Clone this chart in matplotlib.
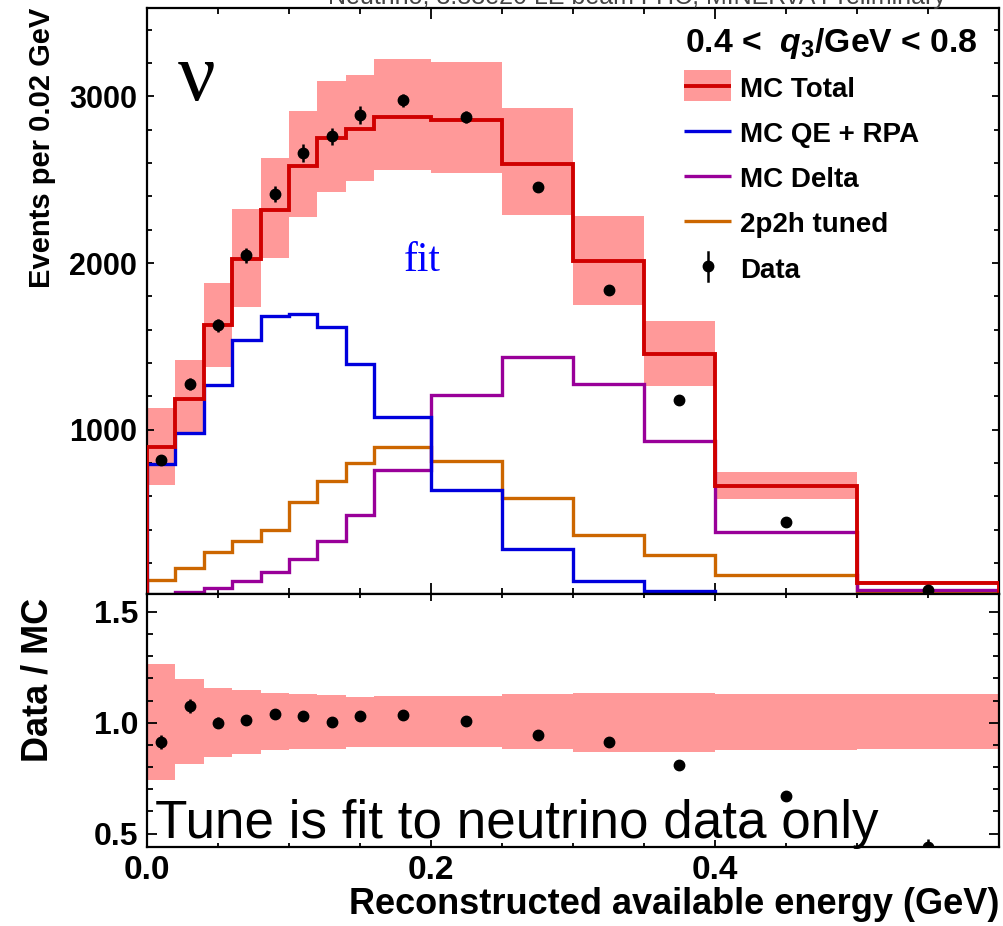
import numpy as np
import matplotlib
matplotlib.use("Agg")
import matplotlib.pyplot as plt
from matplotlib.lines import Line2D
from matplotlib.patches import Rectangle
from matplotlib.ticker import MultipleLocator, FixedLocator, FormatStrFormatter

# ---------------------------------------------------------------- data
bin_edges = [0.0, 0.02, 0.04, 0.06, 0.08, 0.10, 0.12, 0.14, 0.16,
             0.20, 0.25, 0.30, 0.35, 0.40, 0.50, 0.60]
bin_centers = [0.01, 0.03, 0.05, 0.07, 0.09, 0.11, 0.13, 0.15,
               0.18, 0.225, 0.275, 0.325, 0.375, 0.45, 0.55]

mc_total = [895, 1186, 1626, 2024, 2320, 2584, 2750, 2806,
            2876, 2858, 2596, 2012, 1456, 664, 82]
mc_qe_rpa = [794, 980, 1270, 1540, 1684, 1694, 1616, 1396,
             1076, 640, 286, 90, 34, 8, 1]
mc_delta = [8, 26, 50, 90, 146, 224, 334, 486,
            760, 1206, 1438, 1276, 930, 384, 40]
mc_2p2h = [96, 168, 266, 334, 398, 564, 694, 798,
           894, 810, 592, 368, 250, 130, 30]
data = [816, 1276, 1626, 2046, 2414, 2660, 2760, 2888,
        2976, 2876, 2458, 1840, 1180, 446, 36]
data_err = [29, 36, 40, 45, 49, 52, 53, 54,
            39, 34, 31, 27, 22, 10, 3]

# fractional systematic uncertainty on the MC total (lower / upper)
band_lo = [0.744, 0.816, 0.846, 0.858, 0.875, 0.881, 0.882, 0.889,
           0.889, 0.889, 0.881, 0.869, 0.869, 0.878, 0.881]
band_hi = [1.266, 1.195, 1.158, 1.148, 1.133, 1.128, 1.124, 1.115,
           1.121, 1.121, 1.128, 1.133, 1.133, 1.128, 1.128]

legend_labels = ["MC Total", "MC QE + RPA", "MC Delta", "2p2h tuned", "Data"]

# ---------------------------------------------------------------- style
C_BAND = "#ff9999"
C_TOTAL = "#d00000"
C_QE = "#0000dd"
C_DELTA = "#990099"
C_2P2H = "#cc6600"

plt.rcParams["font.family"] = ["Liberation Sans", "DejaVu Sans"]
plt.rcParams["font.weight"] = "bold"
plt.rcParams["axes.labelweight"] = "bold"
plt.rcParams["mathtext.fontset"] = "custom"
plt.rcParams["mathtext.rm"] = "Liberation Sans:bold"
plt.rcParams["mathtext.bf"] = "Liberation Sans:bold"
plt.rcParams["mathtext.it"] = "Liberation Sans:bold:italic"

W, H = 1004, 926
fig = plt.figure(figsize=(W / 100, H / 100), dpi=100)


def fpos(x, y):
    """pixel position (from top-left) -> figure fraction"""
    return x / W, 1 - y / H


L, R, T, MID, B = 147, 999, 8, 594, 847
ax1 = fig.add_axes([L / W, 1 - MID / H, (R - L) / W, (MID - T) / H])
ax2 = fig.add_axes([L / W, 1 - B / H, (R - L) / W, (B - MID) / H])

edges = np.array(bin_edges)
tot = np.array(mc_total, dtype=float)
lo = np.array(band_lo)
hi = np.array(band_hi)
d = np.array(data, dtype=float)
derr = np.array(data_err, dtype=float)

# ---------------------------------------------------------------- top panel
ax1.stairs(tot * hi, edges, baseline=tot * lo, fill=True, color=C_BAND,
           lw=0, zorder=1)
ax1.stairs(mc_2p2h, edges, color=C_2P2H, lw=2.4, zorder=2)
ax1.stairs(mc_delta, edges, color=C_DELTA, lw=2.4, zorder=2)
ax1.stairs(mc_qe_rpa, edges, color=C_QE, lw=2.4, zorder=2)
ax1.stairs(tot, edges, color=C_TOTAL, lw=2.8, zorder=3)
ax1.errorbar(bin_centers, d, yerr=derr, fmt="o", color="black", ms=7.5,
             elinewidth=1.8, capsize=0, zorder=4)

ax1.set_xlim(0.0, 0.6)
ax1.set_ylim(15, 3530)
ax1.xaxis.set_major_locator(FixedLocator([0.0, 0.2, 0.4]))
ax1.xaxis.set_minor_locator(MultipleLocator(0.05))
ax1.yaxis.set_major_locator(MultipleLocator(1000))
ax1.yaxis.set_minor_locator(MultipleLocator(200))
ax1.tick_params(axis="both", which="both", direction="in", top=True,
                right=True, width=1.3)
ax1.tick_params(axis="x", which="major", length=8, labelbottom=False)
ax1.tick_params(axis="x", which="minor", length=4.5)
ax1.tick_params(axis="y", which="major", length=5, labelsize=22, pad=7)
ax1.tick_params(axis="y", which="minor", length=3.6)
ax1.set_ylabel("Events per 0.02 GeV", fontsize=21, fontweight="bold",
               loc="top")
ax1.yaxis.set_label_coords(-0.107, 1.0)

# ---------------------------------------------------------------- ratio panel
ax2.stairs(hi, edges, baseline=lo, fill=True, color=C_BAND, lw=0, zorder=1)
ax2.errorbar(bin_centers, d / tot, yerr=derr / tot, fmt="o", color="black",
             ms=7.5, elinewidth=1.8, capsize=0, zorder=4)
ax2.set_xlim(0.0, 0.6)
ax2.set_ylim(0.44, 1.58)
ax2.xaxis.set_major_locator(FixedLocator([0.0, 0.2, 0.4]))
ax2.xaxis.set_major_formatter(FormatStrFormatter("%.1f"))
ax2.xaxis.set_minor_locator(MultipleLocator(0.05))
ax2.yaxis.set_major_locator(MultipleLocator(0.5))
ax2.yaxis.set_major_formatter(FormatStrFormatter("%.1f"))
ax2.yaxis.set_minor_locator(MultipleLocator(0.1))
ax2.tick_params(axis="both", which="both", direction="in", top=True,
                right=True, width=1.3)
ax2.tick_params(axis="x", which="major", length=5, labelsize=24, pad=6)
ax2.tick_params(axis="x", which="minor", length=3)
ax2.tick_params(axis="y", which="major", length=7, labelsize=23, pad=6)
ax2.tick_params(axis="y", which="minor", length=4)
ax2.set_ylabel("Data / MC", fontsize=26, fontweight="bold", loc="top")
ax2.yaxis.set_label_coords(-0.107, 0.985)
ax2.set_xlabel("Reconstructed available energy (GeV)", fontsize=26,
               fontweight="bold", loc="right")
ax2.xaxis.set_label_coords(1.0, -0.16)

for ax in (ax1, ax2):
    for s in ax.spines.values():
        s.set_linewidth(1.6)

# ---------------------------------------------------------------- annotations
fig.text(*fpos(178, 100), "\u03bd", family="Liberation Serif",
         fontweight="normal", fontsize=60, va="baseline", ha="left")
fig.text(*fpos(404, 271), "fit", family="Liberation Serif",
         fontweight="normal", fontsize=30, color="#0000ff",
         va="baseline", ha="left")
fig.text(*fpos(155, 838), "Tune is fit to neutrino data only",
         fontweight="normal", fontsize=38.2, va="baseline", ha="left",
         zorder=10)
fig.text(*fpos(637, 4), "Neutrino, 3.33e20 LE beam FHC, MINERvA Preliminary",
         fontweight="normal", fontsize=18, color="#444444",
         va="baseline", ha="center")

# ---------------------------------------------------------------- legend
fig.text(*fpos(685, 52), r"0.4 <  $\mathit{q}_{3}$/GeV < 0.8",
         fontsize=24.3, va="baseline", ha="left")

hx0, hx1, tx = 684, 731, 740
row_mid = [86, 131, 176, 221, 266]
row_base = [97, 142, 187, 232, 278]

x0, y0 = fpos(hx0, 101)
x1, y1 = fpos(hx1, 70)
fig.add_artist(Rectangle((x0, y0), x1 - x0, y1 - y0,
                         transform=fig.transFigure, color=C_BAND, lw=0))
for ym, col, lw in zip(row_mid[:4], [C_TOTAL, C_QE, C_DELTA, C_2P2H],
                       [2.8, 2.4, 2.4, 2.4]):
    xa, ya = fpos(hx0, ym)
    xb, _ = fpos(hx1, ym)
    fig.add_artist(Line2D([xa, xb], [ya, ya], transform=fig.transFigure,
                          color=col, lw=lw, solid_capstyle="butt"))
xm, ym = fpos(708, row_mid[4])
_, ytop = fpos(708, 252)
_, ybot = fpos(708, 281)
fig.add_artist(Line2D([xm, xm], [ybot, ytop], transform=fig.transFigure,
                      color="black", lw=1.8))
fig.add_artist(Line2D([xm], [ym], transform=fig.transFigure, marker="o",
                      ms=7.5, color="black", ls="none"))
for yb, lab in zip(row_base, legend_labels):
    fig.text(*fpos(tx, yb), lab, fontsize=20, va="baseline", ha="left")

fig.savefig("out.png", dpi=100)
